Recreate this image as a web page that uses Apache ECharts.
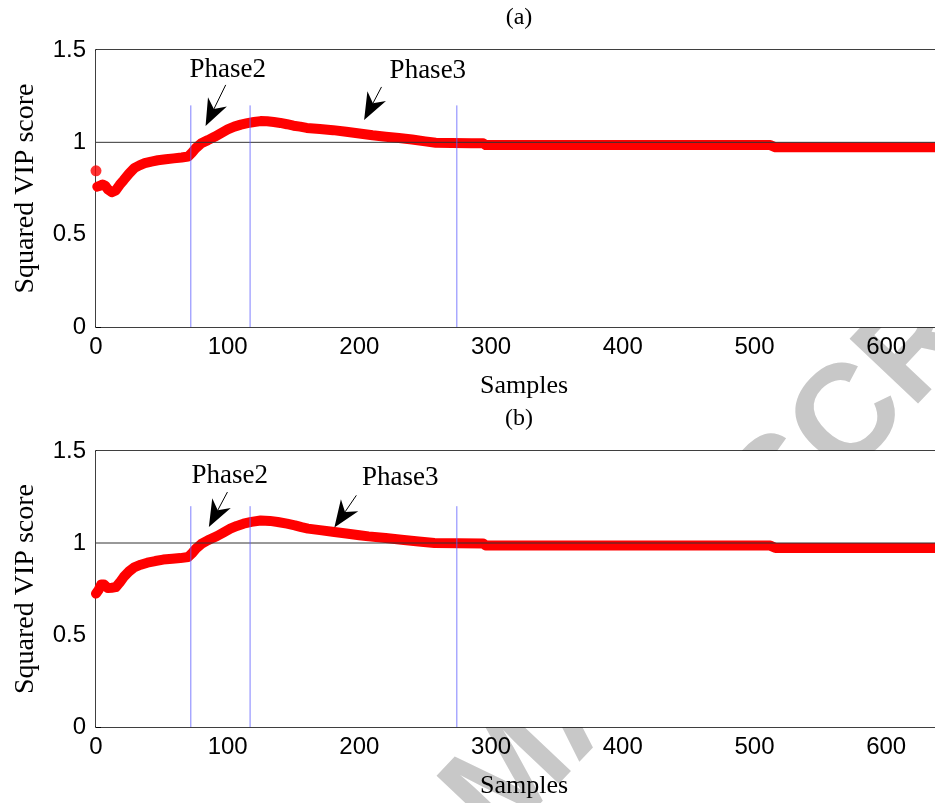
<!DOCTYPE html>
<html>
<head>
<meta charset="utf-8">
<title>Squared VIP score</title>
<script src="https://cdn.jsdelivr.net/npm/echarts@6/dist/echarts.min.js"></script>
<style>
  html, body { margin: 0; padding: 0; background: #fff; }
  #chart { width: 935px; height: 803px; }
</style>
</head>
<body>
<div id="chart"></div>
<script>
// ---- data -------------------------------------------------------------
// Panel (a): squared VIP score per sample
const leadSampleA = 0;
const leadValueA = 0.846;
const samplesA = [1, 3, 5, 7, 9, 12, 15, 18, 21, 25, 29, 33, 37, 42, 47, 53, 59,
  65, 70, 73, 76, 80, 85, 90, 95, 100, 105, 110, 115, 120, 125, 130, 135, 140,
  145, 150, 155, 160, 170, 180, 190, 200, 210, 220, 230, 240, 250, 258, 270,
  285, 294, 296, 350, 400, 450, 512, 516, 560, 600, 650];
const valuesA = [0.76, 0.765, 0.772, 0.765, 0.745, 0.73, 0.74, 0.77, 0.795, 0.83,
  0.86, 0.875, 0.887, 0.896, 0.903, 0.908, 0.913, 0.918, 0.923, 0.945, 0.97,
  0.995, 1.012, 1.03, 1.05, 1.07, 1.085, 1.096, 1.104, 1.11, 1.115, 1.114,
  1.11, 1.105, 1.098, 1.09, 1.085, 1.078, 1.072, 1.066, 1.057, 1.048, 1.038,
  1.03, 1.023, 1.015, 1.005, 0.998, 0.996, 0.995, 0.995, 0.985, 0.985, 0.985,
  0.985, 0.985, 0.973, 0.973, 0.973, 0.973];

// Panel (b)
const samplesB = [0, 2, 4, 6, 9, 12, 15, 18, 21, 25, 29, 34, 39, 45, 51, 58, 64,
  70, 73, 76, 80, 85, 92, 97, 102, 107, 112, 118, 125, 132, 138, 145, 151, 156,
  161, 170, 181, 190, 200, 207, 220, 232, 245, 257, 275, 294, 296, 350, 400,
  450, 512, 516, 560, 600, 650];
const valuesB = [0.725, 0.745, 0.775, 0.775, 0.755, 0.757, 0.76, 0.785, 0.815,
  0.845, 0.868, 0.882, 0.893, 0.902, 0.91, 0.914, 0.918, 0.924, 0.945, 0.97,
  0.995, 1.015, 1.038, 1.058, 1.078, 1.093, 1.105, 1.115, 1.122, 1.12, 1.114,
  1.105, 1.096, 1.086, 1.078, 1.07, 1.06, 1.052, 1.042, 1.036, 1.027, 1.018,
  1.008, 1.0, 0.998, 0.997, 0.986, 0.986, 0.986, 0.986, 0.986, 0.973, 0.973,
  0.973, 0.973];

// Phase boundaries (sample index) and their drawn height
const phaseBounds = [72, 117, 274];
const boundTop = 1.2;
const refLevel = 1;

// Axes
const xMin = 0, xMax = 650, xStep = 100;
const yMin = 0, yMax = 1.5, yStep = 0.5;
const panelTitles = ['(a)', '(b)'];
const xName = 'Samples';
const yName = 'Squared VIP score';
const watermarkText = 'ACCEPTED MANUSCRIPT';

// Phase annotations: arrow [fromSample, fromScore, toSample, toScore], label anchors
const phaseLabels = ['Phase2', 'Phase3'];
const arrowsA = [[98.5, 1.311, 83.2, 1.088], [216.8, 1.30, 203.6, 1.121]];
const labelPosA = [[100, 1.392], [252, 1.387]];
const arrowsB = [[99.8, 1.277, 85.7, 1.087], [197.7, 1.259, 181, 1.084]];
const labelPosB = [[101.5, 1.3625], [231, 1.352]];

// ---- styling ------------------------------------------------------------
const SERIF = '"Liberation Serif", "Times New Roman", serif';
const SANS = '"Liberation Sans", Arial, sans-serif';
const RED = '#ff0000';

const zip = (xs, ys) => xs.map((x, i) => [x, ys[i]]);

function bottomAxis(grid) {
  return {
    type: 'value', gridIndex: grid, position: 'bottom',
    min: xMin, max: xMax, interval: xStep,
    axisLine: { show: true, onZero: false, lineStyle: { color: '#000', width: 1.5 } },
    axisTick: { show: true, inside: true, length: 5, lineStyle: { color: '#000', width: 1 } },
    axisLabel: {
      color: '#000', fontFamily: SANS, fontSize: 24, margin: 8,
      formatter: v => (v % xStep === 0 ? String(v) : '')
    },
    splitLine: { show: false },
    name: xName, nameLocation: 'middle', nameGap: 46,
    nameTextStyle: { color: '#000', fontFamily: SERIF, fontSize: 26 }
  };
}
function topAxis(grid) {
  return {
    type: 'value', gridIndex: grid, position: 'top',
    min: xMin, max: xMax, interval: xStep,
    axisLine: { show: true, onZero: false, lineStyle: { color: '#000', width: 1.5 } },
    axisTick: { show: true, inside: true, length: 5, lineStyle: { color: '#000', width: 1 } },
    axisLabel: { show: false },
    splitLine: { show: false }
  };
}
function leftAxis(grid) {
  return {
    type: 'value', gridIndex: grid, position: 'left',
    min: yMin, max: yMax, interval: yStep,
    axisLine: { show: true, onZero: false, lineStyle: { color: '#000', width: 1.5 } },
    axisTick: { show: true, inside: true, length: 5, lineStyle: { color: '#000', width: 1 } },
    axisLabel: { color: '#000', fontFamily: SANS, fontSize: 24, margin: 10 },
    splitLine: { show: false },
    name: yName, nameLocation: 'middle', nameGap: 56,
    nameTextStyle: { color: '#000', fontFamily: SERIF, fontSize: 28 }
  };
}

function panelSeries(xi, yi, band, lead, arrows, labelPos) {
  const list = [];
  list.push({
    type: 'line', xAxisIndex: xi, yAxisIndex: yi, z: 2,
    data: band, symbol: 'none', smooth: false,
    lineStyle: { color: RED, width: 10, cap: 'round', join: 'round' },
    silent: true
  });
  if (lead) {
    list.push({
      type: 'scatter', xAxisIndex: xi, yAxisIndex: yi, z: 2,
      data: [lead], symbol: 'circle', symbolSize: 11,
      itemStyle: { color: RED }, silent: true
    });
  }
  // reference level
  list.push({
    type: 'line', xAxisIndex: xi, yAxisIndex: yi, z: 4,
    data: [[xMin, refLevel], [xMax, refLevel]], symbol: 'none',
    lineStyle: { color: '#333', width: 1 }, silent: true
  });
  // phase boundaries
  list.push({
    type: 'custom', xAxisIndex: xi, yAxisIndex: yi, z: 5, silent: true,
    data: phaseBounds.map(b => [b]),
    encode: { x: 0 },
    renderItem: (params, api) => {
      const x = api.value(0);
      const p0 = api.coord([x, yMin]);
      const p1 = api.coord([x, boundTop]);
      return {
        type: 'line',
        shape: { x1: p0[0], y1: p0[1], x2: p1[0], y2: p1[1] },
        style: { stroke: 'rgba(95,95,255,0.8)', lineWidth: 1 }
      };
    }
  });
  // annotation arrows
  list.push({
    type: 'custom', xAxisIndex: xi, yAxisIndex: yi, z: 6, silent: true,
    data: arrows,
    encode: { x: [0, 2], y: [1, 3] },
    renderItem: (params, api) => {
      const s = api.coord([api.value(0), api.value(1)]);
      const t = api.coord([api.value(2), api.value(3)]);
      const dx = t[0] - s[0], dy = t[1] - s[1];
      const len = Math.hypot(dx, dy);
      const ux = dx / len, uy = dy / len;
      const nx = -uy, ny = ux;
      const L = 27, W = 10.5, notch = 0.7;
      const bx = t[0] - ux * L, by = t[1] - uy * L;
      const mid = [t[0] - ux * L * notch, t[1] - uy * L * notch];
      return {
        type: 'group',
        children: [
          { type: 'line', shape: { x1: s[0], y1: s[1], x2: mid[0], y2: mid[1] },
            style: { stroke: '#000', lineWidth: 1 } },
          { type: 'polygon',
            shape: { points: [t, [bx + nx * W, by + ny * W], mid, [bx - nx * W, by - ny * W]] },
            style: { fill: '#000' } }
        ]
      };
    }
  });
  // annotation labels
  list.push({
    type: 'custom', xAxisIndex: xi, yAxisIndex: yi, z: 6, silent: true,
    data: labelPos,
    encode: { x: 0, y: 1 },
    renderItem: (params, api) => {
      const p = api.coord([api.value(0), api.value(1)]);
      return {
        type: 'text', x: p[0], y: p[1],
        style: {
          text: phaseLabels[params.dataIndex], fill: '#000',
          font: '27px ' + SERIF, align: 'center', verticalAlign: 'middle'
        }
      };
    }
  });
  return list;
}

const gridBase = { show: true, backgroundColor: '#fff', borderWidth: 0, z: 1, outerBoundsMode: 'none', containLabel: false };

const chart = echarts.init(document.getElementById('chart'), null, { renderer: 'canvas' });
chart.setOption({
  animation: false,
  backgroundColor: '#fff',
  grid: [
    Object.assign({ left: 96, top: 50, width: 856, height: 277 }, gridBase),
    Object.assign({ left: 96, top: 451, width: 856, height: 276 }, gridBase)
  ],
  xAxis: [bottomAxis(0), topAxis(0), bottomAxis(1), topAxis(1)],
  yAxis: [leftAxis(0), leftAxis(1)],
  graphic: [
    // page watermark, lying beneath the white plot areas
    { type: 'text', x: 513, y: 777, rotation: 46.6 * Math.PI / 180, z: -10, silent: true,
      style: { text: watermarkText, fill: '#c8c8c8', font: 'bold 137px ' + SANS,
               align: 'center', verticalAlign: 'middle' } },
    { type: 'text', x: 519, y: 18, silent: true, z: 10,
      style: { text: panelTitles[0], fill: '#000', font: '24px ' + SERIF, align: 'center', verticalAlign: 'middle' } },
    { type: 'text', x: 519, y: 419, silent: true, z: 10,
      style: { text: panelTitles[1], fill: '#000', font: '24px ' + SERIF, align: 'center', verticalAlign: 'middle' } }
  ],
  series: [
    ...panelSeries(0, 0, zip(samplesA, valuesA), [leadSampleA, leadValueA], arrowsA, labelPosA),
    ...panelSeries(2, 1, zip(samplesB, valuesB), null, arrowsB, labelPosB)
  ]
});
</script>
</body>
</html>
